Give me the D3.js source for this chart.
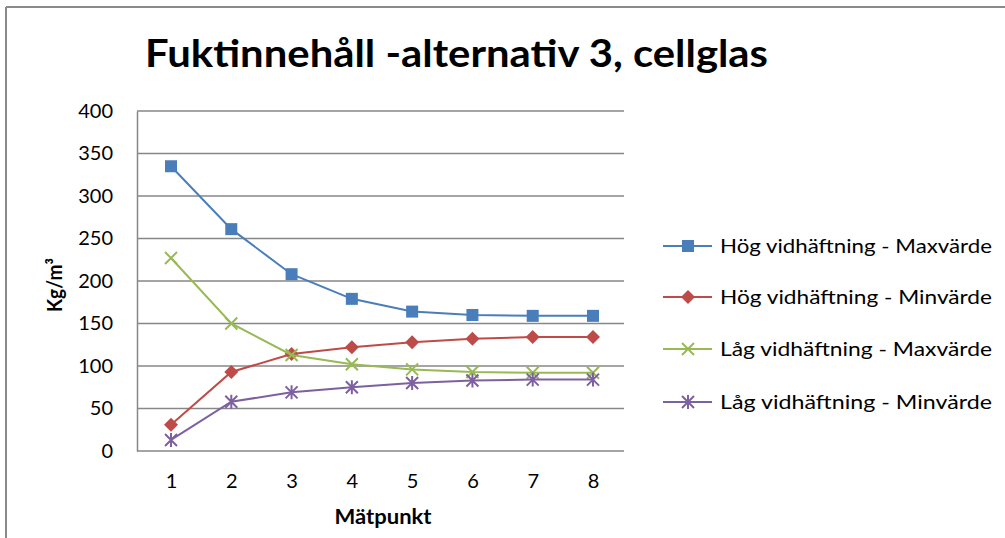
<!DOCTYPE html>
<html>
<head>
<meta charset="utf-8">
<script src="https://cdn.jsdelivr.net/npm/d3@7"></script>
<style>
  body { margin: 0; background: #fff; }
  svg text { font-family: Lato, "Open Sans", sans-serif; fill: #000; }
</style>
</head>
<body>
<svg id="chart" width="1005" height="538"></svg>
<script>
const categories = [1, 2, 3, 4, 5, 6, 7, 8];
const yTicks = [0, 50, 100, 150, 200, 250, 300, 350, 400];

const hogMax = [335, 261, 208, 179, 164, 160, 159, 159];
const hogMin = [31, 93, 114, 122, 128, 132, 134, 134];
const lagMax = [227, 150, 113, 102, 96, 93, 92, 92];
const lagMin = [13, 58, 69, 75, 80, 83, 84, 84];

const seriesNames = [
    "Hög vidhäftning - Maxvärde",
    "Hög vidhäftning - Minvärde",
    "Låg vidhäftning - Maxvärde",
    "Låg vidhäftning - Minvärde"
];
const seriesColors = ["#4a7ebb", "#be4b48", "#98b954", "#7d60a0"];
const seriesMarkers = ["square", "diamond", "cross", "star"];

const series = [hogMax, hogMin, lagMax, lagMin].map(function(values, i) {
    return { name: seriesNames[i], color: seriesColors[i], marker: seriesMarkers[i], values: values };
});

const svg = d3.select("#chart");

// outer frame (only top and left edges visible)
svg.append("line").attr("x1", 6).attr("y1", 7).attr("x2", 1005).attr("y2", 7)
    .attr("stroke", "#8a8a8a").attr("stroke-width", 2);
svg.append("line").attr("x1", 6).attr("y1", 7).attr("x2", 6).attr("y2", 538)
    .attr("stroke", "#8a8a8a").attr("stroke-width", 2);

const plot = { left: 137, right: 624, top: 111, bottom: 451 };

const x = d3.scalePoint()
    .domain(categories)
    .range([171, 593]);

const y = d3.scaleLinear()
    .domain([0, 400])
    .range([plot.bottom, plot.top]);

// gridlines
svg.append("g")
    .selectAll("line")
    .data(yTicks)
    .enter().append("line")
    .attr("x1", plot.left)
    .attr("x2", plot.right)
    .attr("y1", function(d) { return y(d); })
    .attr("y2", function(d) { return y(d); })
    .attr("stroke", "#878787")
    .attr("stroke-width", 1.5);

// y axis
const yAxis = svg.append("g")
    .attr("transform", "translate(" + plot.left + ",0)")
    .call(d3.axisLeft(y).tickValues(yTicks).tickSize(0).tickPadding(24));
yAxis.select(".domain").attr("stroke", "#878787").attr("stroke-width", 1.5);
yAxis.selectAll("text").style("font-size", "20px").attr("fill", "#000");

// x axis
const xAxis = svg.append("g")
    .attr("transform", "translate(0," + plot.bottom + ")")
    .call(d3.axisBottom(x).tickSize(0).tickPadding(23));
xAxis.select(".domain").remove();
xAxis.selectAll("text").style("font-size", "20px").attr("fill", "#000");

// lines and markers
const line = d3.line()
    .x(function(d, i) { return x(categories[i]); })
    .y(function(d) { return y(d); });

function drawMarker(g, type, color) {
    if (type === "square") {
        g.append("rect").attr("x", -6).attr("y", -6).attr("width", 12).attr("height", 12)
            .attr("fill", color);
    } else if (type === "diamond") {
        g.append("path").attr("d", "M0,-7L7,0L0,7L-7,0Z").attr("fill", color);
    } else if (type === "cross") {
        g.append("path").attr("d", "M-6,-6L6,6M-6,6L6,-6")
            .attr("stroke", color).attr("stroke-width", 2).attr("fill", "none");
    } else {
        g.append("path").attr("d", "M-6,-6L6,6M-6,6L6,-6M0,-7L0,7")
            .attr("stroke", color).attr("stroke-width", 2).attr("fill", "none");
    }
}

series.forEach(function(s) {
    svg.append("path")
        .datum(s.values)
        .attr("d", line)
        .attr("fill", "none")
        .attr("stroke", s.color)
        .attr("stroke-width", 2);

    svg.append("g")
        .selectAll("g")
        .data(s.values)
        .enter().append("g")
        .attr("transform", function(d, i) { return "translate(" + x(categories[i]) + "," + y(d) + ")"; })
        .each(function() { drawMarker(d3.select(this), s.marker, s.color); });
});

// title
svg.append("text")
    .attr("x", 145)
    .attr("y", 67)
    .attr("textLength", 623)
    .attr("lengthAdjust", "spacingAndGlyphs")
    .style("font-size", "38px")
    .style("font-weight", "bold")
    .text("Fuktinnehåll -alternativ 3, cellglas");

// axis titles
svg.append("text")
    .attr("transform", "translate(62," + ((plot.top + plot.bottom) / 2 + 4) + ") rotate(-90)")
    .attr("text-anchor", "middle")
    .attr("textLength", 54)
    .attr("lengthAdjust", "spacingAndGlyphs")
    .style("font-size", "20px")
    .style("font-weight", "bold")
    .text("Kg/m³");

svg.append("text")
    .attr("x", 383)
    .attr("y", 524)
    .attr("text-anchor", "middle")
    .attr("textLength", 97)
    .attr("lengthAdjust", "spacingAndGlyphs")
    .style("font-size", "20px")
    .style("font-weight", "bold")
    .text("Mätpunkt");

// legend
const legendY = [246, 297, 349, 402];
const legend = svg.append("g")
    .selectAll("g")
    .data(series)
    .enter().append("g")
    .attr("transform", function(d, i) { return "translate(0," + legendY[i] + ")"; });

legend.append("line")
    .attr("x1", 663).attr("x2", 712)
    .attr("stroke", function(d) { return d.color; })
    .attr("stroke-width", 2);

legend.each(function(d) {
    const g = d3.select(this).append("g").attr("transform", "translate(688,0)");
    drawMarker(g, d.marker, d.color);
});

legend.append("text")
    .attr("x", 720)
    .attr("dy", "0.35em")
    .attr("textLength", 272)
    .attr("lengthAdjust", "spacingAndGlyphs")
    .style("font-size", "19px")
    .text(function(d) { return d.name; });
</script>
</body>
</html>
